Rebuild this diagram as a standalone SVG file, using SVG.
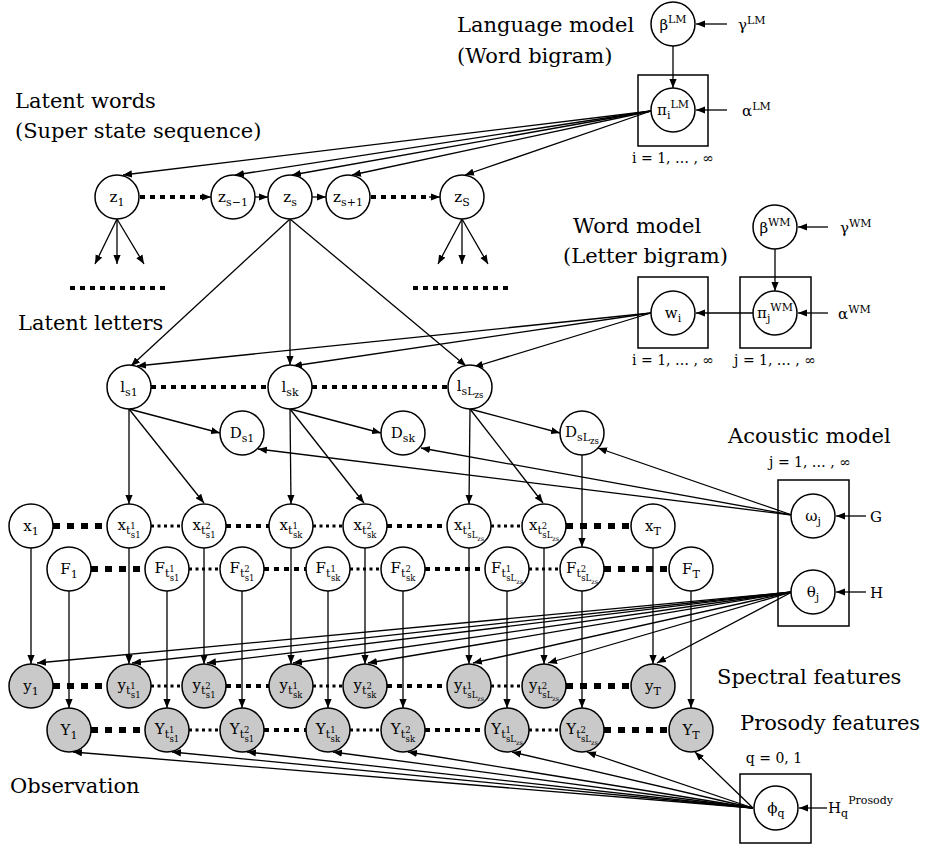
<svg xmlns="http://www.w3.org/2000/svg" width="929" height="850" viewBox="0 0 929 850">
<defs>
<marker id="ah" viewBox="0 0 10 8" refX="10" refY="4" markerWidth="9" markerHeight="7.5" markerUnits="userSpaceOnUse" orient="auto"><path d="M0,0 L10,4 L0,8 z" fill="#000" stroke="none"/></marker>
</defs>
<style>
.n{fill:#fff;stroke:#000;stroke-width:1.5}
.o{fill:#c9c9c9;stroke:#000;stroke-width:1.5}
.p{fill:none;stroke:#000;stroke-width:1.5}
.e{fill:none;stroke:#000;stroke-width:1.3;marker-end:url(#ah)}
.dz{fill:none;stroke:#000;stroke-width:4;stroke-dasharray:5 5}
.dt{fill:none;stroke:#000;stroke-width:6;stroke-dasharray:7 7}
.dd{fill:none;stroke:#000;stroke-width:3;stroke-dasharray:3 3.5}
.l{font-family:"DejaVu Serif","Liberation Serif",serif;font-size:15px;text-anchor:middle;fill:#000}
.le{font-family:"DejaVu Serif","Liberation Serif",serif;font-size:15px;fill:#000}
.s{font-size:11px}
.ss{font-size:8.5px}
.sss{font-size:6.5px}
.t{font-family:"DejaVu Serif","Liberation Serif",serif;font-size:21px;fill:#000}
.ix{font-family:"DejaVu Serif","Liberation Serif",serif;font-size:14px;text-anchor:middle;fill:#000}
</style>
<rect width="929" height="850" fill="#fff"/>

<g id="titles">
<text class="t" x="457" y="32">Language model</text>
<text class="t" x="457" y="63">(Word bigram)</text>
<text class="t" x="15" y="108">Latent words</text>
<text class="t" x="15" y="138">(Super state sequence)</text>
<text class="t" x="573" y="233">Word model</text>
<text class="t" x="563" y="263">(Letter bigram)</text>
<text class="t" x="18" y="330">Latent letters</text>
<text class="t" x="728" y="443">Acoustic model</text>
<text class="t" x="717" y="684">Spectral features</text>
<text class="t" x="740" y="730">Prosody features</text>
<text class="t" x="10" y="793">Observation</text>
<text class="ix" x="673" y="163">i = 1, … , ∞</text>
<text class="ix" x="673" y="365">i = 1, … , ∞</text>
<text class="ix" x="775" y="365">j = 1, … , ∞</text>
<text class="ix" x="810" y="467">j = 1, … , ∞</text>
<text class="ix" x="774" y="763">q = 0, 1</text>
</g>

<g id="plates">
<rect class="p" x="638" y="75" width="70" height="71"/>
<rect class="p" x="638" y="277" width="70" height="71"/>
<rect class="p" x="740" y="277" width="71" height="71"/>
<rect class="p" x="778" y="480" width="71" height="146"/>
<rect class="p" x="740" y="774" width="71" height="69"/>
</g>

<g id="connectors">
<path class="e" d="M673,46 L673,88"/>
<path class="e" d="M727,24 L696,24"/>
<path class="e" d="M727,110 L696,110"/>
<path class="e" d="M651,111 L123,175"/>
<path class="e" d="M651,111 L235,175"/>
<path class="e" d="M651,111 L292,175"/>
<path class="e" d="M651,111 L352,175"/>
<path class="e" d="M651,111 L465,175"/>
<path class="dz" d="M140,197 L203,197"/>
<path class="e" d="M200,197 L211,197"/>
<path class="e" d="M255,197 L268,197"/>
<path class="e" d="M312,197 L326,197"/>
<path class="dz" d="M371,197 L432,197"/>
<path class="e" d="M429,197 L440,197"/>
<path class="e" d="M117,219 L95,264"/>
<path class="e" d="M117,219 L117,264"/>
<path class="e" d="M117,219 L144,264"/>
<path class="e" d="M462,219 L438,264"/>
<path class="e" d="M462,219 L462,264"/>
<path class="e" d="M462,219 L488,264"/>
<path class="dz" d="M70,288 L167,288"/>
<path class="dz" d="M413,288 L510,288"/>
<path class="e" d="M290,219 L131,366"/>
<path class="e" d="M290,219 L290,365"/>
<path class="e" d="M290,219 L466,366"/>
<path class="e" d="M775,249 L775,291"/>
<path class="e" d="M828,227 L798,227"/>
<path class="e" d="M828,313 L798,313"/>
<path class="e" d="M753,313 L696,313"/>
<path class="e" d="M651,313 L137,366"/>
<path class="e" d="M651,313 L293,366"/>
<path class="e" d="M651,313 L474,367"/>
<path class="dz" d="M151,387 L268,387"/>
<path class="dz" d="M312,387 L448,387"/>
<path class="e" d="M129,409 L220,433"/>
<path class="e" d="M290,409 L381,433"/>
<path class="e" d="M470,409 L560,433"/>
<path class="e" d="M129,409 L129,504"/>
<path class="e" d="M129,409 L204,503"/>
<path class="e" d="M290,409 L291,504"/>
<path class="e" d="M290,409 L364,503"/>
<path class="e" d="M470,409 L469,504"/>
<path class="e" d="M470,409 L543,503"/>
<path class="e" d="M792,515 L258,449"/>
<path class="e" d="M792,515 L421,448"/>
<path class="e" d="M792,515 L598,448"/>
<path class="e" d="M582,455 L582,547"/>
<path class="e" d="M866,516 L836,516"/>
<path class="e" d="M866,592 L836,592"/>
<path class="e" d="M827,808 L799,808"/>
<path class="dt" d="M53,526 L107,526"/>
<path class="dd" d="M151,526 L182,526"/>
<path class="dz" d="M226,526 L269,526"/>
<path class="dd" d="M313,526 L343,526"/>
<path class="dz" d="M387,526 L447,526"/>
<path class="dd" d="M491,526 L522,526"/>
<path class="dt" d="M566,526 L631,526"/>
<path class="dt" d="M91,569 L145,569"/>
<path class="dd" d="M189,569 L220,569"/>
<path class="dz" d="M264,569 L306,569"/>
<path class="dd" d="M350,569 L381,569"/>
<path class="dz" d="M425,569 L485,569"/>
<path class="dd" d="M529,569 L560,569"/>
<path class="dt" d="M604,569 L669,569"/>
<path class="dt" d="M53,686 L107,686"/>
<path class="dd" d="M151,686 L182,686"/>
<path class="dz" d="M226,686 L269,686"/>
<path class="dd" d="M313,686 L343,686"/>
<path class="dz" d="M387,686 L447,686"/>
<path class="dd" d="M491,686 L522,686"/>
<path class="dt" d="M566,686 L631,686"/>
<path class="dt" d="M91,730 L145,730"/>
<path class="dd" d="M189,730 L220,730"/>
<path class="dz" d="M264,730 L306,730"/>
<path class="dd" d="M350,730 L381,730"/>
<path class="dz" d="M425,730 L485,730"/>
<path class="dd" d="M529,730 L560,730"/>
<path class="dt" d="M604,730 L669,730"/>
<path class="e" d="M31,548 L31,664"/>
<path class="e" d="M129,548 L129,664"/>
<path class="e" d="M204,548 L204,664"/>
<path class="e" d="M291,548 L291,664"/>
<path class="e" d="M365,548 L365,664"/>
<path class="e" d="M469,548 L469,664"/>
<path class="e" d="M544,548 L544,664"/>
<path class="e" d="M653,548 L653,664"/>
<path class="e" d="M69,591 L69,708"/>
<path class="e" d="M167,591 L167,708"/>
<path class="e" d="M242,591 L242,708"/>
<path class="e" d="M328,591 L328,708"/>
<path class="e" d="M403,591 L403,708"/>
<path class="e" d="M507,591 L507,708"/>
<path class="e" d="M582,591 L582,708"/>
<path class="e" d="M691,591 L691,708"/>
<path class="e" d="M792,592 L37,663"/>
<path class="e" d="M792,592 L132,663"/>
<path class="e" d="M792,592 L207,663"/>
<path class="e" d="M792,592 L293,663"/>
<path class="e" d="M792,592 L368,663"/>
<path class="e" d="M792,592 L473,663"/>
<path class="e" d="M792,592 L548,663"/>
<path class="e" d="M792,592 L657,663"/>
<path class="e" d="M753,808 L73,752"/>
<path class="e" d="M753,808 L172,752"/>
<path class="e" d="M753,808 L247,752"/>
<path class="e" d="M753,808 L333,752"/>
<path class="e" d="M753,808 L408,752"/>
<path class="e" d="M753,808 L512,752"/>
<path class="e" d="M753,808 L587,752"/>
<path class="e" d="M753,808 L695,752"/>
</g>

<g id="hyper">
<text class="le" x="738" y="30">γ<tspan class="s" dy="-6">LM</tspan></text>
<text class="le" x="742" y="116">α<tspan class="s" dy="-6">LM</tspan></text>
<text class="le" x="840" y="233">γ<tspan class="s" dy="-6">WM</tspan></text>
<text class="le" x="838" y="319">α<tspan class="s" dy="-6">WM</tspan></text>
<text class="le" x="870" y="522">G</text>
<text class="le" x="870" y="598">H</text>
<text class="le" x="828" y="813">H<tspan class="s" dy="4">q</tspan><tspan class="s" dy="-13">Prosody</tspan></text>
</g>

<g id="betaLM"><circle class="n" cx="673" cy="24" r="22"/><text class="l" x="673" y="30">β<tspan class="s" dy="-7">LM</tspan></text></g>
<g id="piLM"><circle class="n" cx="673" cy="110" r="22"/><text class="l" x="673" y="115">π<tspan class="s" dy="4">i</tspan><tspan class="s" dy="-11">LM</tspan></text></g>
<g id="betaWM"><circle class="n" cx="775" cy="227" r="22"/><text class="l" x="775" y="233">β<tspan class="s" dy="-7">WM</tspan></text></g>
<g id="piWM"><circle class="n" cx="775" cy="313" r="22"/><text class="l" x="775" y="318">π<tspan class="s" dy="4">j</tspan><tspan class="s" dy="-11">WM</tspan></text></g>
<g id="wi"><circle class="n" cx="673" cy="313" r="22"/><text class="l" x="673" y="318">w<tspan class="s" dy="4">i</tspan></text></g>

<g id="z1"><circle class="n" cx="117" cy="197" r="22"/><text class="l" x="117" y="202">z<tspan class="s" dy="4">1</tspan></text></g>
<g id="zsm1"><circle class="n" cx="233" cy="197" r="22"/><text class="l" x="233" y="202">z<tspan class="s" dy="4">s−1</tspan></text></g>
<g id="zs"><circle class="n" cx="290" cy="197" r="22"/><text class="l" x="290" y="202">z<tspan class="s" dy="4">s</tspan></text></g>
<g id="zsp1"><circle class="n" cx="348" cy="197" r="22"/><text class="l" x="348" y="202">z<tspan class="s" dy="4">s+1</tspan></text></g>
<g id="zS"><circle class="n" cx="462" cy="197" r="22"/><text class="l" x="462" y="202">z<tspan class="s" dy="4">S</tspan></text></g>

<g id="ls1"><circle class="n" cx="129" cy="387" r="22"/><text class="l" x="129" y="392">l<tspan class="s" dy="4">s1</tspan></text></g>
<g id="lsk"><circle class="n" cx="290" cy="387" r="22"/><text class="l" x="290" y="392">l<tspan class="s" dy="4">sk</tspan></text></g>
<g id="lsL"><circle class="n" cx="470" cy="387" r="22"/><text class="l" x="470" y="391">l<tspan class="s" dy="4">sL</tspan><tspan class="ss" dy="3">zs</tspan></text></g>

<g id="Ds1"><circle class="n" cx="242" cy="433" r="22"/><text class="l" x="242" y="438">D<tspan class="s" dy="4">s1</tspan></text></g>
<g id="Dsk"><circle class="n" cx="403" cy="433" r="22"/><text class="l" x="403" y="438">D<tspan class="s" dy="4">sk</tspan></text></g>
<g id="DsL"><circle class="n" cx="582" cy="433" r="22"/><text class="l" x="582" y="437">D<tspan class="s" dy="4">sL</tspan><tspan class="ss" dy="3">zs</tspan></text></g>

<g id="x1"><circle class="n" cx="31" cy="526" r="22"/><text class="l" x="31" y="531">x<tspan class="s" dy="4">1</tspan></text></g>
<g id="xts1a"><circle class="n" cx="129" cy="526" r="22"/><text class="l" x="129" y="530">x<tspan class="s" dy="4">t</tspan><tspan class="ss" dy="-5">1</tspan><tspan class="ss" dx="-5" dy="9">s1</tspan></text></g>
<g id="xts1b"><circle class="n" cx="204" cy="526" r="22"/><text class="l" x="204" y="530">x<tspan class="s" dy="4">t</tspan><tspan class="ss" dy="-5">2</tspan><tspan class="ss" dx="-5" dy="9">s1</tspan></text></g>
<g id="xtska"><circle class="n" cx="291" cy="526" r="22"/><text class="l" x="291" y="530">x<tspan class="s" dy="4">t</tspan><tspan class="ss" dy="-5">1</tspan><tspan class="ss" dx="-5" dy="9">sk</tspan></text></g>
<g id="xtskb"><circle class="n" cx="365" cy="526" r="22"/><text class="l" x="365" y="530">x<tspan class="s" dy="4">t</tspan><tspan class="ss" dy="-5">2</tspan><tspan class="ss" dx="-5" dy="9">sk</tspan></text></g>
<g id="xtsLa"><circle class="n" cx="469" cy="526" r="22"/><text class="l" x="469" y="530">x<tspan class="s" dy="4">t</tspan><tspan class="ss" dy="-5">1</tspan><tspan class="ss" dx="-5" dy="9">sL</tspan><tspan class="sss" dy="3">zs</tspan></text></g>
<g id="xtsLb"><circle class="n" cx="544" cy="526" r="22"/><text class="l" x="544" y="530">x<tspan class="s" dy="4">t</tspan><tspan class="ss" dy="-5">2</tspan><tspan class="ss" dx="-5" dy="9">sL</tspan><tspan class="sss" dy="3">zs</tspan></text></g>
<g id="xT"><circle class="n" cx="653" cy="526" r="22"/><text class="l" x="653" y="531">x<tspan class="s" dy="4">T</tspan></text></g>

<g id="F1"><circle class="n" cx="69" cy="569" r="22"/><text class="l" x="69" y="574">F<tspan class="s" dy="4">1</tspan></text></g>
<g id="Fts1a"><circle class="n" cx="167" cy="569" r="22"/><text class="l" x="167" y="573">F<tspan class="s" dy="4">t</tspan><tspan class="ss" dy="-5">1</tspan><tspan class="ss" dx="-5" dy="9">s1</tspan></text></g>
<g id="Fts1b"><circle class="n" cx="242" cy="569" r="22"/><text class="l" x="242" y="573">F<tspan class="s" dy="4">t</tspan><tspan class="ss" dy="-5">2</tspan><tspan class="ss" dx="-5" dy="9">s1</tspan></text></g>
<g id="Ftska"><circle class="n" cx="328" cy="569" r="22"/><text class="l" x="328" y="573">F<tspan class="s" dy="4">t</tspan><tspan class="ss" dy="-5">1</tspan><tspan class="ss" dx="-5" dy="9">sk</tspan></text></g>
<g id="Ftskb"><circle class="n" cx="403" cy="569" r="22"/><text class="l" x="403" y="573">F<tspan class="s" dy="4">t</tspan><tspan class="ss" dy="-5">2</tspan><tspan class="ss" dx="-5" dy="9">sk</tspan></text></g>
<g id="FtsLa"><circle class="n" cx="507" cy="569" r="22"/><text class="l" x="507" y="573">F<tspan class="s" dy="4">t</tspan><tspan class="ss" dy="-5">1</tspan><tspan class="ss" dx="-5" dy="9">sL</tspan><tspan class="sss" dy="3">zs</tspan></text></g>
<g id="FtsLb"><circle class="n" cx="582" cy="569" r="22"/><text class="l" x="582" y="573">F<tspan class="s" dy="4">t</tspan><tspan class="ss" dy="-5">2</tspan><tspan class="ss" dx="-5" dy="9">sL</tspan><tspan class="sss" dy="3">zs</tspan></text></g>
<g id="FT"><circle class="n" cx="691" cy="569" r="22"/><text class="l" x="691" y="574">F<tspan class="s" dy="4">T</tspan></text></g>

<g id="y1"><circle class="o" cx="31" cy="686" r="22"/><text class="l" x="31" y="691">y<tspan class="s" dy="4">1</tspan></text></g>
<g id="yts1a"><circle class="o" cx="129" cy="686" r="22"/><text class="l" x="129" y="690">y<tspan class="s" dy="4">t</tspan><tspan class="ss" dy="-5">1</tspan><tspan class="ss" dx="-5" dy="9">s1</tspan></text></g>
<g id="yts1b"><circle class="o" cx="204" cy="686" r="22"/><text class="l" x="204" y="690">y<tspan class="s" dy="4">t</tspan><tspan class="ss" dy="-5">2</tspan><tspan class="ss" dx="-5" dy="9">s1</tspan></text></g>
<g id="ytska"><circle class="o" cx="291" cy="686" r="22"/><text class="l" x="291" y="690">y<tspan class="s" dy="4">t</tspan><tspan class="ss" dy="-5">1</tspan><tspan class="ss" dx="-5" dy="9">sk</tspan></text></g>
<g id="ytskb"><circle class="o" cx="365" cy="686" r="22"/><text class="l" x="365" y="690">y<tspan class="s" dy="4">t</tspan><tspan class="ss" dy="-5">2</tspan><tspan class="ss" dx="-5" dy="9">sk</tspan></text></g>
<g id="ytsLa"><circle class="o" cx="469" cy="686" r="22"/><text class="l" x="469" y="690">y<tspan class="s" dy="4">t</tspan><tspan class="ss" dy="-5">1</tspan><tspan class="ss" dx="-5" dy="9">sL</tspan><tspan class="sss" dy="3">zs</tspan></text></g>
<g id="ytsLb"><circle class="o" cx="544" cy="686" r="22"/><text class="l" x="544" y="690">y<tspan class="s" dy="4">t</tspan><tspan class="ss" dy="-5">2</tspan><tspan class="ss" dx="-5" dy="9">sL</tspan><tspan class="sss" dy="3">zs</tspan></text></g>
<g id="yT"><circle class="o" cx="653" cy="686" r="22"/><text class="l" x="653" y="691">y<tspan class="s" dy="4">T</tspan></text></g>

<g id="Y1"><circle class="o" cx="69" cy="730" r="22"/><text class="l" x="69" y="735">Y<tspan class="s" dy="4">1</tspan></text></g>
<g id="Yts1a"><circle class="o" cx="167" cy="730" r="22"/><text class="l" x="167" y="734">Y<tspan class="s" dy="4">t</tspan><tspan class="ss" dy="-5">1</tspan><tspan class="ss" dx="-5" dy="9">s1</tspan></text></g>
<g id="Yts1b"><circle class="o" cx="242" cy="730" r="22"/><text class="l" x="242" y="734">Y<tspan class="s" dy="4">t</tspan><tspan class="ss" dy="-5">2</tspan><tspan class="ss" dx="-5" dy="9">s1</tspan></text></g>
<g id="Ytska"><circle class="o" cx="328" cy="730" r="22"/><text class="l" x="328" y="734">Y<tspan class="s" dy="4">t</tspan><tspan class="ss" dy="-5">1</tspan><tspan class="ss" dx="-5" dy="9">sk</tspan></text></g>
<g id="Ytskb"><circle class="o" cx="403" cy="730" r="22"/><text class="l" x="403" y="734">Y<tspan class="s" dy="4">t</tspan><tspan class="ss" dy="-5">2</tspan><tspan class="ss" dx="-5" dy="9">sk</tspan></text></g>
<g id="YtsLa"><circle class="o" cx="507" cy="730" r="22"/><text class="l" x="507" y="734">Y<tspan class="s" dy="4">t</tspan><tspan class="ss" dy="-5">1</tspan><tspan class="ss" dx="-5" dy="9">sL</tspan><tspan class="sss" dy="3">zs</tspan></text></g>
<g id="YtsLb"><circle class="o" cx="582" cy="730" r="22"/><text class="l" x="582" y="734">Y<tspan class="s" dy="4">t</tspan><tspan class="ss" dy="-5">2</tspan><tspan class="ss" dx="-5" dy="9">sL</tspan><tspan class="sss" dy="3">zs</tspan></text></g>
<g id="YT"><circle class="o" cx="691" cy="730" r="22"/><text class="l" x="691" y="735">Y<tspan class="s" dy="4">T</tspan></text></g>

<g id="omega"><circle class="n" cx="813" cy="516" r="22"/><text class="l" x="813" y="521">ω<tspan class="s" dy="4">j</tspan></text></g>
<g id="theta"><circle class="n" cx="813" cy="592" r="22"/><text class="l" x="813" y="597">θ<tspan class="s" dy="4">j</tspan></text></g>
<g id="phi"><circle class="n" cx="776" cy="808" r="22"/><text class="l" x="776" y="813">ϕ<tspan class="s" dy="4">q</tspan></text></g>
</svg>
